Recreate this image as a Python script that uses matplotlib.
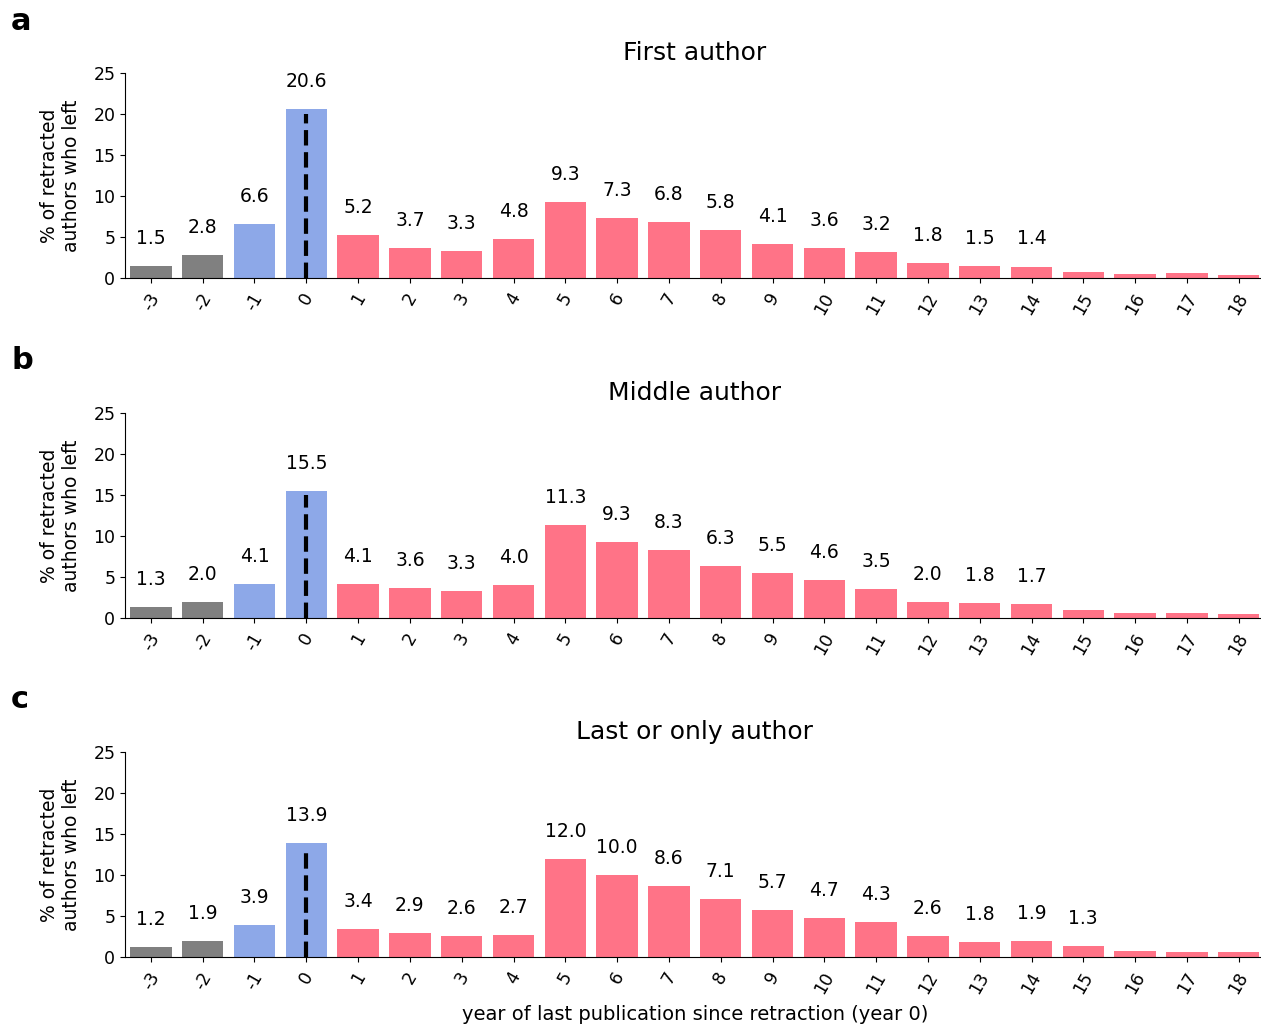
import numpy as np
import matplotlib.pyplot as plt

years = list(range(-3, 19))
first_author = [1.5, 2.8, 6.6, 20.6, 5.2, 3.7, 3.3, 4.8, 9.3, 7.3, 6.8, 5.8, 4.1, 3.6, 3.2,
                1.8, 1.5, 1.4, 0.68, 0.44, 0.56, 0.32]
middle_author = [1.3, 2.0, 4.1, 15.5, 4.1, 3.6, 3.3, 4.0, 11.3, 9.3, 8.3, 6.3, 5.5, 4.6, 3.5,
                 2.0, 1.8, 1.7, 0.98, 0.61, 0.61, 0.49]
last_author = [1.2, 1.9, 3.9, 13.9, 3.4, 2.9, 2.6, 2.7, 12.0, 10.0, 8.6, 7.1, 5.7, 4.7, 4.3,
               2.6, 1.8, 1.9, 1.3, 0.73, 0.65, 0.65]
titles = ["First author", "Middle author", "Last or only author"]
letters = ["a", "b", "c"]

GRAY = "#808080"
BLUE = "#8DA8E8"
RED = "#FF7387"


def bar_color(y):
    if y < -1:
        return GRAY
    if y <= 0:
        return BLUE
    return RED


fig = plt.figure(figsize=(12.61, 10.27), dpi=100)
W, H = 1261.0, 1027.0
tops = [73, 413, 752]
ax_h = 205

for k, vals in enumerate([first_author, middle_author, last_author]):
    ax = fig.add_axes([125 / W, 1 - (tops[k] + ax_h) / H, 1139.6 / W, ax_h / H])
    ax.bar(years, vals, width=0.8, color=[bar_color(y) for y in years])
    # dashed marker at the retraction year
    ax.vlines(0, 0, np.floor(vals[3]), colors="black", linestyles="dashed", linewidth=3)
    for x, v in zip(years, vals):
        if v >= 1.0:
            ax.text(x, v + 2.2, f"{v:.1f}", ha="center", va="bottom", fontsize=13.5)
    ax.set_xlim(-3.5, 18.5)
    ax.set_ylim(0, 25)
    ax.set_yticks([0, 5, 10, 15, 20, 25])
    ax.set_xticks(years)
    ax.set_xticklabels([str(y) for y in years], rotation=60, fontsize=12.5)
    ax.tick_params(axis="y", labelsize=12.5)
    ax.tick_params(axis="x", pad=5)
    ax.spines["top"].set_visible(False)
    ax.spines["right"].set_visible(False)
    ax.set_ylabel("% of retracted\nauthors who left", fontsize=13.5, labelpad=9)
    ax.set_title(titles[k], fontsize=18, pad=9)
    fig.text(11 / W, 1 - (tops[k] - 52) / H, letters[k], fontsize=22, fontweight="bold",
             va="center", ha="left")
    if k == 2:
        ax.set_xlabel("year of last publication since retraction (year 0)", fontsize=14,
                      labelpad=6)

fig.savefig("out.png", dpi=100)
